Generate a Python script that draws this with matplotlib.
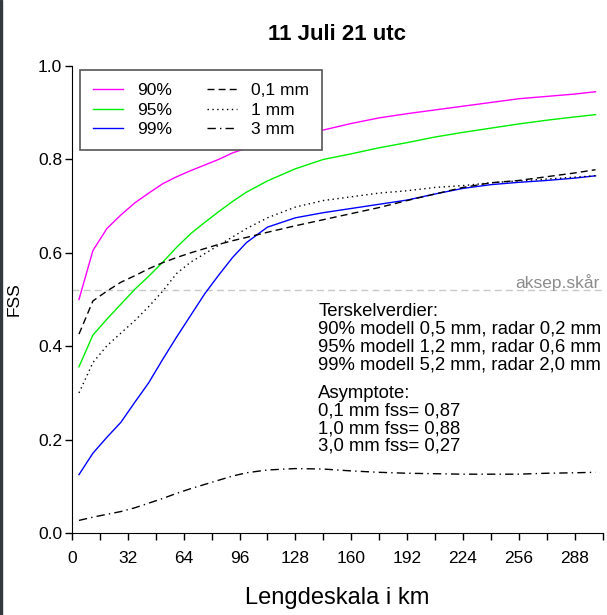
import matplotlib
matplotlib.use("Agg")
import matplotlib.pyplot as plt
from matplotlib.patches import Rectangle

plt.rcParams["font.family"] = ["Liberation Sans", "DejaVu Sans"]

# length scale (km) and FSS values
km = [4, 12, 20, 28, 36, 44, 52, 60, 68, 76, 84, 92, 100, 112, 128, 144,
      160, 176, 192, 208, 224, 240, 256, 272, 288, 300]

fss_90 = [0.500, 0.605, 0.652, 0.681, 0.707, 0.728, 0.748, 0.763, 0.776, 0.788,
          0.800, 0.814, 0.824, 0.838, 0.852, 0.863, 0.877, 0.889, 0.898, 0.906,
          0.914, 0.922, 0.930, 0.935, 0.940, 0.945]
fss_95 = [0.356, 0.424, 0.458, 0.490, 0.522, 0.550, 0.580, 0.612, 0.641, 0.665,
          0.688, 0.710, 0.730, 0.754, 0.780, 0.800, 0.812, 0.825, 0.836, 0.848,
          0.858, 0.867, 0.876, 0.884, 0.891, 0.896]
fss_99 = [0.125, 0.171, 0.205, 0.237, 0.280, 0.322, 0.372, 0.420, 0.466, 0.512,
          0.552, 0.590, 0.622, 0.655, 0.675, 0.686, 0.695, 0.704, 0.713, 0.726,
          0.738, 0.746, 0.751, 0.755, 0.760, 0.765]
fss_01mm = [0.426, 0.497, 0.518, 0.537, 0.551, 0.566, 0.579, 0.590, 0.600, 0.609,
            0.618, 0.626, 0.633, 0.644, 0.658, 0.671, 0.684, 0.697, 0.712, 0.726,
            0.740, 0.750, 0.755, 0.763, 0.771, 0.778]
fss_1mm = [0.300, 0.365, 0.401, 0.428, 0.455, 0.485, 0.518, 0.556, 0.580, 0.598,
           0.616, 0.634, 0.652, 0.675, 0.698, 0.712, 0.720, 0.728, 0.733, 0.740,
           0.744, 0.750, 0.754, 0.758, 0.762, 0.765]
fss_3mm = [0.027, 0.034, 0.040, 0.046, 0.054, 0.064, 0.074, 0.085, 0.095, 0.104,
           0.113, 0.122, 0.129, 0.135, 0.138, 0.137, 0.133, 0.130, 0.128, 0.127,
           0.126, 0.126, 0.126, 0.128, 0.129, 0.130]

accept_level = 0.52
xticks = [0, 32, 64, 96, 128, 160, 192, 224, 256, 288]
yticks = [0.0, 0.2, 0.4, 0.6, 0.8, 1.0]

threshold_text = ("Terskelverdier:\n"
                  "90% modell 0,5 mm, radar 0,2 mm\n"
                  "95% modell 1,2 mm, radar 0,6 mm\n"
                  "99% modell 5,2 mm, radar 2,0 mm")
asymptote_text = ("Asymptote:\n"
                  "0,1 mm fss= 0,87\n"
                  "1,0 mm fss= 0,88\n"
                  "3,0 mm fss= 0,27")

fig = plt.figure(figsize=(6.07, 6.15), dpi=100)
ax = fig.add_axes([0.1186, 0.1333, 0.874, 0.7593])

ax.plot(km, fss_90, color="#ff00ff", lw=1.0, label="90%")
ax.plot(km, fss_95, color="#00ee00", lw=1.0, label="95%")
ax.plot(km, fss_99, color="#0000ff", lw=1.0, label="99%")
ax.plot(km, fss_01mm, color="black", lw=1.0, dashes=(5, 3), label="0,1 mm")
ax.plot(km, fss_1mm, color="black", lw=1.0, dashes=(1, 2.5), label="1 mm")
ax.plot(km, fss_3mm, color="black", lw=1.0, dashes=(6, 3, 1, 3), label="3 mm")

ax.axhline(accept_level, color="#c8c8c8", lw=1.0, dashes=(5, 3), zorder=0)
ax.text(0.995, accept_level - 0.002, "aksep.skår", transform=ax.get_yaxis_transform(),
        ha="right", va="bottom", fontsize=12.5, color="#8c8c8c")

ax.text(0.464, 0.493, threshold_text, transform=ax.transAxes, ha="left", va="top",
        fontsize=13.3, linespacing=1.06)
ax.text(0.464, 0.318, asymptote_text, transform=ax.transAxes, ha="left", va="top",
        fontsize=13.3, linespacing=1.06)

ax.set_xlim(0, 304)
ax.set_ylim(0, 1.0)
ax.set_xticks(xticks)
ax.set_xticks(range(16, 305, 32), minor=True)
ax.set_yticks(yticks)
ax.set_yticklabels([f"{v:.1f}" for v in yticks])
ax.tick_params(axis="both", labelsize=12.5, direction="out", length=5, width=1)
ax.tick_params(axis="x", which="minor", direction="out", length=5, width=1)
ax.tick_params(axis="x", pad=8)
ax.tick_params(axis="y", pad=2)
for side in ["top", "right"]:
    ax.spines[side].set_visible(False)

ax.set_xlabel("Lengdeskala i km", fontsize=17, labelpad=15)
ax.set_ylabel("FSS", fontsize=12.5, labelpad=12)
ax.set_title("11 Juli 21 utc", fontsize=16, fontweight="bold", pad=19)

handles, labels = ax.get_legend_handles_labels()
leg = ax.legend(handles, labels, ncol=2, loc="upper left", bbox_to_anchor=(0.015, 0.991),
                borderaxespad=0, fontsize=12.5, frameon=True, fancybox=False,
                framealpha=1, edgecolor="#555555", handlelength=1.75,
                handletextpad=0.8, columnspacing=2.0, labelspacing=0.25,
                borderpad=0.75)
leg.get_frame().set_linewidth(1.2)

fig.patches.append(Rectangle((0, 0), 2 / 607, 1, transform=fig.transFigure,
                             color="#333a3d", zorder=10))

fig.savefig("out.png", dpi=100)
